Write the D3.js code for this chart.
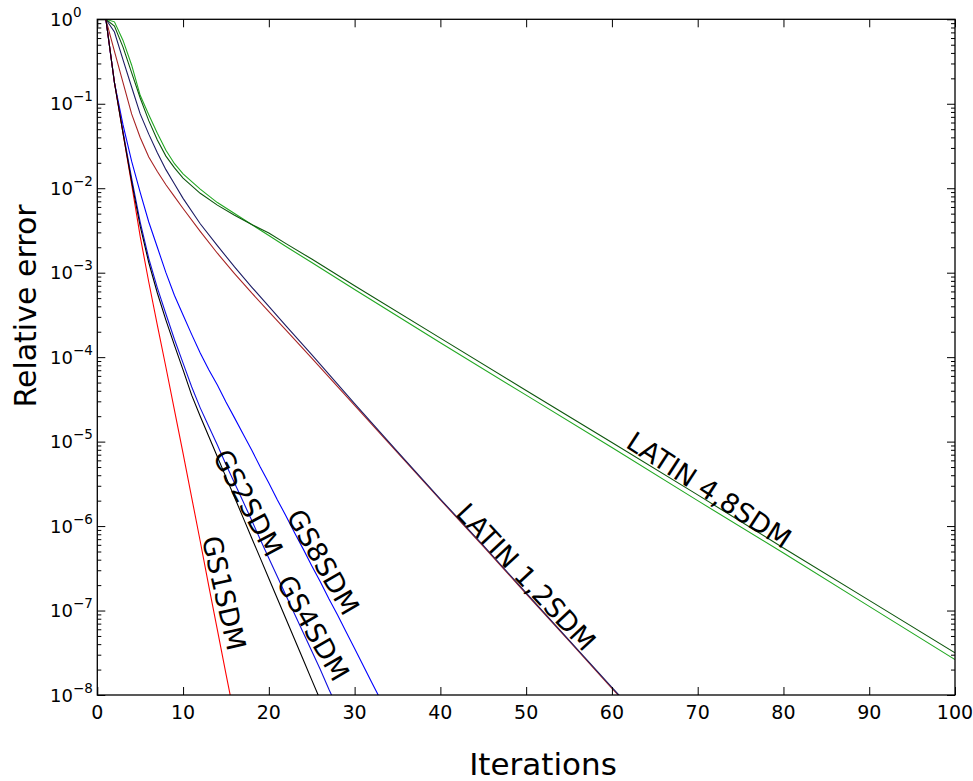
<!DOCTYPE html>
<html><head><meta charset="utf-8">
<script src="https://cdn.jsdelivr.net/npm/d3@7/dist/d3.min.js"></script>
<style>
body{margin:0;background:#fff}
text{font-family:"DejaVu Sans",sans-serif;fill:#000}
</style></head>
<body><svg id="chart" width="973" height="781"></svg>
<script>
// ---- data ----
const xTickValues = [0,10,20,30,40,50,60,70,80,90,100];
const yTickExponents = [0,-1,-2,-3,-4,-5,-6,-7,-8];

const gs1Iter = [1,2,3,4,5,6,7,8,9,10,11,12,13,14,15,16];
const gs1Err  = [1,1.78e-1,4.47e-2,1.12e-2,2.69e-3,7.76e-4,2.40e-4,7.59e-5,2.34e-5,7.24e-6,2.19e-6,6.61e-7,1.95e-7,5.89e-8,1.78e-8,5.50e-9];

const gs2Iter = [1,2,3,4,5,6,7,8,9,10,11,12,13,14,15,16,17,18,19,20,21,22,23,24,25,26];
const gs2Err  = [1,1.78e-1,4.47e-2,1.20e-2,3.55e-3,1.32e-3,5.75e-4,2.75e-4,1.38e-4,7.08e-5,3.55e-5,2.00e-5,1.15e-5,6.61e-6,3.80e-6,2.19e-6,1.26e-6,7.24e-7,4.17e-7,2.40e-7,1.38e-7,7.94e-8,4.57e-8,2.63e-8,1.51e-8,8.71e-9];

const gs4Iter = [1,2,3,4,5,6,7,8,9,10,11,12,13,14,15,16,17,18,19,20,21,22,23,24,25,26,27,28];
const gs4Err  = [1,1.78e-1,4.68e-2,1.32e-2,3.98e-3,1.48e-3,6.61e-4,3.24e-4,1.62e-4,8.51e-5,4.47e-5,2.51e-5,1.51e-5,9.12e-6,5.37e-6,3.24e-6,1.95e-6,1.17e-6,6.92e-7,4.17e-7,2.51e-7,1.51e-7,9.12e-8,5.50e-8,3.31e-8,2.00e-8,1.17e-8,7.08e-9];

const gs8Iter = [1,2,3,4,5,6,7,8,9,10,11,12,13,14,15,16,17,18,19,20,21,22,23,24,25,26,27,28,29,30,31,32,33];
const gs8Err  = [1,1.78e-1,5.62e-2,2.09e-2,8.91e-3,3.98e-3,2.00e-3,1.00e-3,5.37e-4,3.16e-4,1.86e-4,1.12e-4,7.08e-5,4.68e-5,2.95e-5,1.91e-5,1.23e-5,7.94e-6,5.01e-6,3.24e-6,2.04e-6,1.32e-6,8.32e-7,5.37e-7,3.39e-7,2.19e-7,1.38e-7,8.91e-8,5.62e-8,3.55e-8,2.24e-8,1.41e-8,8.91e-9];

const latin1Iter = [1,2,3,4,5,6,7,8,9,10,12,14,16,18,20,22,25,30,35,40,45,50,55,60,61];
const latin1Err  = [1,4.17e-1,1.78e-1,7.59e-2,3.98e-2,2.34e-2,1.58e-2,1.10e-2,7.94e-3,5.75e-3,3.09e-3,1.70e-3,9.77e-4,5.75e-4,3.47e-4,2.09e-4,9.77e-5,2.69e-5,7.41e-6,2.04e-6,5.75e-7,1.58e-7,4.37e-8,1.20e-8,9.33e-9];

const latin2Iter = [1,2,3,4,5,6,7,8,9,10,12,14,16,18,20,22,25,30,35,40,45,50,55,60,61];
const latin2Err  = [1,7.08e-1,3.31e-1,1.58e-1,7.59e-2,4.37e-2,2.63e-2,1.66e-2,1.12e-2,7.59e-3,3.80e-3,2.09e-3,1.17e-3,6.76e-4,3.98e-4,2.34e-4,1.07e-4,2.82e-5,7.59e-6,2.09e-6,5.89e-7,1.62e-7,4.47e-8,1.23e-8,9.55e-9];

const latin4Iter = [1,2,3,4,5,6,7,8,9,10,12,14,16,18,20,22,25,30,40,50,60,70,80,90,100];
const latin4Err  = [1,9.33e-1,5.62e-1,2.88e-1,1.26e-1,7.41e-2,4.47e-2,2.82e-2,1.95e-2,1.48e-2,9.77e-3,6.76e-3,5.01e-3,3.72e-3,2.75e-3,2.04e-3,1.32e-3,6.31e-4,1.48e-4,3.55e-5,8.51e-6,2.00e-6,4.79e-7,1.12e-7,2.63e-8];

const latin8Iter = [1,2,3,4,5,6,7,8,9,10,12,14,16,18,20,22,25,30,40,50,60,70,80,90,100];
const latin8Err  = [1,8.32e-1,4.68e-1,2.34e-1,1.17e-1,6.31e-2,3.72e-2,2.40e-2,1.74e-2,1.32e-2,8.71e-3,6.31e-3,4.79e-3,3.72e-3,2.95e-3,2.21e-3,1.45e-3,7.00e-4,1.68e-4,4.03e-5,9.77e-6,2.34e-6,5.50e-7,1.32e-7,3.16e-8];

const labelTexts = ["GS1SDM","GS2SDM","GS4SDM","GS8SDM","LATIN 1,2SDM","LATIN 4,8SDM"];

// ---- drawing ----
const L = 97.3, R = 955, T = 19.3, B = 695;
const svg = d3.select("#chart");
const x = d3.scaleLinear().domain([0,100]).range([L,R]);
const y = d3.scaleLog().domain([1,1e-8]).range([T,B]);

const series = [
  {it:latin1Iter, v:latin1Err, c:"#a82424"},
  {it:latin2Iter, v:latin2Err, c:"#1c1c64"},
  {it:latin4Iter, v:latin4Err, c:"#22a822"},
  {it:latin8Iter, v:latin8Err, c:"#0d560d"},
  {it:gs8Iter, v:gs8Err, c:"#0000ff"},
  {it:gs4Iter, v:gs4Err, c:"#1010e0"},
  {it:gs1Iter, v:gs1Err, c:"#ff0000"},
  {it:gs2Iter, v:gs2Err, c:"#000000"}
];

svg.append("defs").append("clipPath").attr("id","plotclip")
  .append("rect").attr("x",L).attr("y",T).attr("width",R-L).attr("height",B-T);

const line = d3.line().x(d=>x(d[0])).y(d=>y(d[1]));
const lg = svg.append("g").attr("clip-path","url(#plotclip)");
series.forEach(s=>{
  lg.append("path").attr("d", line(s.it.map((t,i)=>[t,s.v[i]])))
    .attr("fill","none").attr("stroke",s.c).attr("stroke-width",1.1);
});

const minorVals = [];
for (let e=-8;e<0;e++) for (let m=2;m<=9;m++) minorVals.push(m*Math.pow(10,e));
const majorVals = yTickExponents.map(e=>Math.pow(10,e));

function styleAxis(g){ g.select(".domain").remove(); g.selectAll("line").attr("stroke","#000").attr("stroke-width",1); g.selectAll("text").remove(); }

svg.append("g").attr("transform",`translate(0,${B})`).call(d3.axisBottom(x).tickValues(xTickValues).tickSize(-8).tickFormat("")).call(styleAxis);
svg.append("g").attr("transform",`translate(0,${T})`).call(d3.axisTop(x).tickValues(xTickValues).tickSize(-8).tickFormat("")).call(styleAxis);
svg.append("g").attr("transform",`translate(${L},0)`).call(d3.axisLeft(y).tickValues(majorVals).tickSize(-8).tickFormat("")).call(styleAxis);
svg.append("g").attr("transform",`translate(${L},0)`).call(d3.axisLeft(y).tickValues(minorVals).tickSize(-4).tickFormat("")).call(styleAxis);
svg.append("g").attr("transform",`translate(${R},0)`).call(d3.axisRight(y).tickValues(majorVals).tickSize(-8).tickFormat("")).call(styleAxis);
svg.append("g").attr("transform",`translate(${R},0)`).call(d3.axisRight(y).tickValues(minorVals).tickSize(-4).tickFormat("")).call(styleAxis);

svg.append("rect").attr("x",L).attr("y",T).attr("width",R-L).attr("height",B-T)
  .attr("fill","none").attr("stroke","#000").attr("stroke-width",1.3);

svg.selectAll(".xl").data(xTickValues).enter().append("text")
  .attr("x",d=>x(d)).attr("y",B+24).attr("text-anchor","middle")
  .attr("font-size",19).text(d=>d);

yTickExponents.forEach(e=>{
  const t = svg.append("text").attr("x",50).attr("y",y(Math.pow(10,e))+6.5).attr("font-size",18);
  t.append("tspan").text("10");
  t.append("tspan").attr("dy",-9).attr("font-size",13.5).text(e===0?"0":"\u2212"+(-e));
});

svg.append("text").attr("x",543).attr("y",775).attr("text-anchor","middle")
  .attr("font-size",31).text("Iterations");
svg.append("text").attr("transform","translate(36,306) rotate(-90)").attr("text-anchor","middle")
  .attr("font-size",30).text("Relative error");

const labelPos = [
  {cx:224, cy:593, a:77},
  {cx:248, cy:503, a:62},
  {cx:313, cy:628, a:60},
  {cx:323, cy:562, a:60},
  {cx:526, cy:577, a:47},
  {cx:709, cy:490, a:33}
];
labelTexts.forEach((txt,i)=>{
  const p = labelPos[i];
  svg.append("text").attr("transform",`translate(${p.cx},${p.cy}) rotate(${p.a})`)
    .attr("text-anchor","middle").attr("dominant-baseline","central")
    .attr("font-size",27).text(txt);
});
</script></body></html>
